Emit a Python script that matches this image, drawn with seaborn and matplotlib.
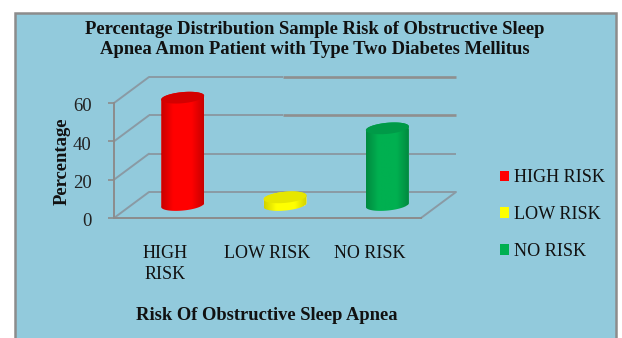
# recreate 3d cylinder chart, osa risk in diabetes patients
import numpy as np
import pandas as pd
import seaborn as sns
import matplotlib.pyplot as plt
from matplotlib.colors import LinearSegmentedColormap
from matplotlib.patches import Polygon, Rectangle
from matplotlib.transforms import ScaledTranslation

categories = ["HIGH RISK", "LOW RISK", "NO RISK"]
tick_labels = ["HIGH\nRISK", "LOW RISK", "NO RISK"]
percent = [56, 4, 40]
y_ticks = [0, 20, 40, 60]
colors = ["#ff0000", "#ffff00", "#00b050"]
edge_colors = ["#c80000", "#d2d200", "#008a40"]
top_colors = ["#d40000", "#e6e600", "#009a48"]

W, H = 622, 338
BG = "#92cadc"
GRID = "#8a9aa4"
AXC = "#8c8c8c"

sns.set_theme(style="white")
plt.rcParams["font.family"] = ["Liberation Serif", "DejaVu Serif"]

df = pd.DataFrame({"risk": categories, "percent": percent})

fig = plt.figure(figsize=(W / 100, H / 100), dpi=100, facecolor="white")
fig.add_artist(Rectangle((14.5 / W, -0.01), 601.5 / W, 1 - 13 / H + 0.01, transform=fig.transFigure,
                         facecolor=BG, edgecolor=AXC, linewidth=1.8, zorder=-1))

# axes = front plane of the fake 3d box
ax = fig.add_axes([114 / W, 1 - 218 / H, 307 / W, 115 / H])
ax.patch.set_alpha(0)
sns.barplot(data=df, x="risk", y="percent", hue="risk", palette=colors, width=0.42,
            saturation=1, ax=ax, legend=True)

ax.set_xlim(-0.5, 2.5)
ax.set_ylim(0, 60)
# depth of box in data units
DX = 35 / (307 / 3)
DY = 26 / (115 / 60)
HEAVY_FROM = 1.15

# back wall + slanted side lines
back = np.array(y_ticks) + DY
ax.hlines(back[:2], -0.5 + DX, 2.5 + DX, color=GRID, lw=1.4, clip_on=False, zorder=1)
ax.hlines(back[2:], -0.5 + DX, HEAVY_FROM, color=GRID, lw=1.4, clip_on=False, zorder=1)
# the upper two back lines look heavier on the right half
ax.hlines(back[2:], HEAVY_FROM, 2.5 + DX, color="#8f8f8f", lw=1.9, clip_on=False, zorder=1)
for v in y_ticks:
    ax.plot([-0.5, -0.5 + DX], [v, v + DY], color=GRID, lw=1.4, clip_on=False, zorder=1)
ax.plot([2.5, 2.5 + DX], [0, DY], color=GRID, lw=1.4, clip_on=False, zorder=1)

cmaps = [LinearSegmentedColormap.from_list("c", [(0, e), (0.28, c), (0.72, c), (1, e)])
         for e, c in zip(edge_colors, colors)]
grad = np.linspace(0, 1, 64).reshape(1, -1)
t = np.linspace(0, 2 * np.pi, 90)

for i, cont in enumerate(ax.containers):
    bar = cont[0]
    x0 = bar.get_x() + DX / 2
    w = bar.get_width()
    h = bar.get_height()
    base = DY / 2
    bar.set_x(x0)
    bar.set_y(base)
    cx = x0 + w / 2
    a = w / 2
    b = 2.9
    skew = 1.0
    ex = cx + a * np.cos(t)
    ey = b * np.sin(t) + skew * np.cos(t)
    # body outline: lower half of base then upper half of top
    low = t > np.pi
    up = t <= np.pi
    pts = np.r_[np.c_[ex[low], ey[low] + base], np.c_[ex[up], ey[up] + base + h]]
    body = Polygon(pts, closed=True, transform=ax.transData)
    bar.set_clip_path(body)
    bar.set_clip_box(fig.bbox)
    im = ax.imshow(grad, extent=(x0, x0 + w, base - 5, base + h + 5), cmap=cmaps[i], aspect="auto", zorder=3)
    im.set_clip_path(body)
    im.set_clip_box(fig.bbox)
    ax.fill(ex, ey + base + h, color=top_colors[i], lw=0, clip_on=False, zorder=4)

ax.set_xlim(-0.5, 2.5)
ax.set_ylim(0, 60)

for s in ["top", "right"]:
    ax.spines[s].set_visible(False)
for s in ["left", "bottom"]:
    ax.spines[s].set_color(AXC)
    ax.spines[s].set_linewidth(1.4)

ax.set_yticks(y_ticks)
ax.set_xticks(range(3))
ax.set_xticklabels(tick_labels, fontsize=13, color="#111111", linespacing=1.27)
ax.tick_params(axis="y", labelsize=13.5, length=4, width=1.2, color=AXC, pad=12, left=True, labelcolor="#222222")
ax.tick_params(axis="x", length=0, pad=19.5)
ax.set_xlabel("")
ax.set_ylabel("")
nudge = ScaledTranslation(0, -2 / 100, fig.dpi_scale_trans)
for lab in ax.get_yticklabels():
    lab.set_transform(lab.get_transform() + nudge)

leg = ax.legend(loc="center left", bbox_to_anchor=(499.5 / W, 1 - 214.5 / H), bbox_transform=fig.transFigure,
                frameon=False, fontsize=13.1, handlelength=0.52, handleheight=0.5, handletextpad=0.28,
                labelspacing=1.09, borderpad=0, borderaxespad=0)
for txt in leg.get_texts():
    txt.set_color("#111111")
for patch in leg.get_patches():
    patch.set_edgecolor("none")

fig.text(315 / W, 1 - 29 / H, "Percentage Distribution Sample Risk of Obstructive Sleep", ha="center", va="center",
         fontsize=13.4, fontweight="bold", color="#111111")
fig.text(315 / W, 1 - 50 / H, "Apnea Amon Patient with Type Two Diabetes Mellitus", ha="center", va="center",
         fontsize=13.4, fontweight="bold", color="#111111")
fig.text(267 / W, 1 - 315.5 / H, "Risk Of Obstructive Sleep Apnea", ha="center", va="center",
         fontsize=13.3, fontweight="bold", color="#111111")
fig.text(62 / W, 1 - 161 / H, "Percentage", ha="center", va="center", rotation=90,
         fontsize=13.4, fontweight="bold", color="#111111")

fig.savefig("out.png", dpi=100)
